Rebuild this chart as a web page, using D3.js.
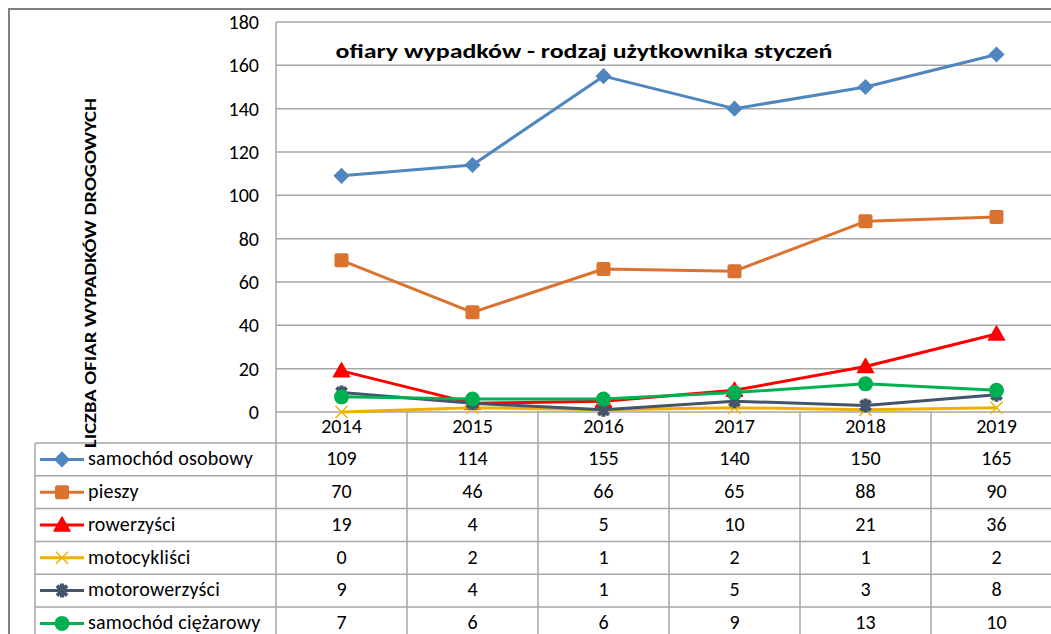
<!DOCTYPE html>
<html>
<head>
<meta charset="utf-8">
<script src="https://cdn.jsdelivr.net/npm/d3@7"></script>
<style>
  body { margin: 0; background: #fff; }
  svg text { font-family: Carlito, Lato, "Open Sans", sans-serif; fill: #000; }
</style>
</head>
<body>
<svg id="chart" width="1051" height="634"></svg>
<script>
// data
var years = [2014, 2015, 2016, 2017, 2018, 2019];
var osobowy = [109, 114, 155, 140, 150, 165];
var pieszy = [70, 46, 66, 65, 88, 90];
var rowerzysci = [19, 4, 5, 10, 21, 36];
var motocyklisci = [0, 2, 1, 2, 1, 2];
var motorowerzysci = [9, 4, 1, 5, 3, 8];
var ciezarowy = [7, 6, 6, 9, 13, 10];
var seriesNames = ["samochód osobowy", "pieszy", "rowerzyści", "motocykliści", "motorowerzyści", "samochód ciężarowy"];
var yTicks = [0, 20, 40, 60, 80, 100, 120, 140, 160, 180];

var series = [
  {name: seriesNames[0], values: osobowy, color: "#4f86c0", marker: "diamond"},
  {name: seriesNames[1], values: pieszy, color: "#dc7230", marker: "square"},
  {name: seriesNames[2], values: rowerzysci, color: "#ff0000", marker: "triangle"},
  {name: seriesNames[3], values: motocyklisci, color: "#edb200", marker: "x"},
  {name: seriesNames[4], values: motorowerzysci, color: "#44546a", marker: "star"},
  {name: seriesNames[5], values: ciezarowy, color: "#00b050", marker: "circle"}
];

var svg = d3.select("#chart"),
    plotL = 276, plotR = 1062, plotT = 22, plotB = 412,
    tableLeft = 35, headerBottom = 443, rowH = 32.8,
    fs = "20px";

var x = d3.scaleBand().domain(years).range([plotL, plotR]);
var y = d3.scaleLinear().domain([0, 180]).range([plotB, plotT]);

// outer chart border
svg.append("rect")
  .attr("x", 9).attr("y", 9).attr("width", 1100).attr("height", 700)
  .attr("fill", "none").attr("stroke", "#7f7f7f").attr("stroke-width", 2);

// gridlines
svg.append("g").selectAll("line").data(yTicks).join("line")
  .attr("x1", plotL).attr("x2", plotR)
  .attr("y1", function (d) { return y(d); }).attr("y2", function (d) { return y(d); })
  .attr("stroke", "#a6a6a6").attr("stroke-width", 1.5);

// y axis labels
var yAxis = svg.append("g")
  .attr("transform", "translate(" + plotL + ",0)")
  .call(d3.axisLeft(y).tickValues(yTicks).tickSize(0).tickPadding(17));
yAxis.select(".domain").remove();
yAxis.selectAll("text").style("font-size", fs).attr("fill", "#000");

// data table grid
var tableRows = d3.range(series.length + 1);
var grid = svg.append("g").attr("stroke", "#a6a6a6").attr("stroke-width", 1.5);
grid.selectAll("line.h").data(tableRows).join("line")
  .attr("x1", tableLeft).attr("x2", plotR)
  .attr("y1", function (i) { return headerBottom + i * rowH; })
  .attr("y2", function (i) { return headerBottom + i * rowH; });
grid.append("line").attr("x1", tableLeft).attr("x2", tableLeft)
  .attr("y1", headerBottom).attr("y2", 640);
grid.append("line").attr("x1", plotL).attr("x2", plotL)
  .attr("y1", plotT).attr("y2", 640);
grid.selectAll("line.v").data(years.slice(1)).join("line")
  .attr("x1", function (d) { return x(d); }).attr("x2", function (d) { return x(d); })
  .attr("y1", plotB).attr("y2", 640);

// year labels
svg.append("g").selectAll("text").data(years).join("text")
  .attr("x", function (d) { return x(d) + x.bandwidth() / 2; })
  .attr("y", (plotB + headerBottom) / 2 + 1)
  .attr("text-anchor", "middle").attr("dominant-baseline", "middle")
  .style("font-size", fs)
  .text(function (d) { return d; });

// marker shapes
function marker(sel, type, color) {
  if (type === "diamond") {
    sel.append("path").attr("d", d3.symbol(d3.symbolSquare, 130)())
      .attr("transform", "rotate(45)").attr("fill", color);
  } else if (type === "square") {
    sel.append("rect").attr("x", -7).attr("y", -7).attr("width", 14).attr("height", 14)
      .attr("rx", 2).attr("fill", color);
  } else if (type === "triangle") {
    sel.append("path").attr("d", "M0,-8L8,6L-8,6Z").attr("fill", color)
      .attr("stroke", color).attr("stroke-linejoin", "round").attr("stroke-width", 1.5);
  } else if (type === "x") {
    sel.append("path").attr("d", "M-6,-6L6,6M-6,6L6,-6")
      .attr("stroke", color).attr("stroke-width", 1.5).attr("fill", "none");
  } else if (type === "star") {
    sel.append("path").attr("d", "M-5,-5L5,5M-5,5L5,-5M0,-7L0,7")
      .attr("stroke", color).attr("stroke-width", 4).attr("fill", "none");
  } else if (type === "circle") {
    sel.append("circle").attr("r", 7.5).attr("fill", color);
  }
}

// lines and markers
var line = d3.line()
  .x(function (d, i) { return x(years[i]) + x.bandwidth() / 2; })
  .y(function (d) { return y(d); });

series.forEach(function (s) {
  var g = svg.append("g");
  g.append("path").attr("d", line(s.values))
    .attr("fill", "none").attr("stroke", s.color).attr("stroke-width", 3)
    .attr("stroke-linejoin", "round");
  g.selectAll("g").data(s.values).join("g")
    .attr("transform", function (d, i) {
      return "translate(" + (x(years[i]) + x.bandwidth() / 2) + "," + y(d) + ")";
    })
    .each(function () { marker(d3.select(this), s.marker, s.color); });
});

// table rows: legend key, name, values
series.forEach(function (s, r) {
  var cy = headerBottom + r * rowH + rowH / 2;
  var key = svg.append("g");
  key.append("line").attr("x1", 40).attr("x2", 84).attr("y1", cy).attr("y2", cy)
    .attr("stroke", s.color).attr("stroke-width", 3);
  marker(key.append("g").attr("transform", "translate(62," + cy + ")"), s.marker, s.color);
  svg.append("text").attr("x", 88).attr("y", cy + 1)
    .attr("dominant-baseline", "middle").style("font-size", fs)
    .style("letter-spacing", "0.2px")
    .text(s.name);
  svg.append("g").selectAll("text").data(s.values).join("text")
    .attr("x", function (d, i) { return x(years[i]) + x.bandwidth() / 2; })
    .attr("y", cy + 1)
    .attr("text-anchor", "middle").attr("dominant-baseline", "middle")
    .style("font-size", fs)
    .text(function (d) { return d; });
});

// chart title
svg.append("text").attr("x", 584).attr("y", 58)
  .attr("text-anchor", "middle").style("font-size", "21px").style("font-weight", "bold")
  .attr("textLength", 497).attr("lengthAdjust", "spacingAndGlyphs")
  .text("ofiary wypadków - rodzaj użytkownika styczeń");

// y axis title
svg.append("text")
  .attr("transform", "translate(96,273) rotate(-90)")
  .attr("text-anchor", "middle").style("font-size", "16px").style("font-weight", "bold")
  .attr("textLength", 350).attr("lengthAdjust", "spacingAndGlyphs")
  .text("LICZBA OFIAR WYPADKÓW DROGOWYCH");
</script>
</body>
</html>
